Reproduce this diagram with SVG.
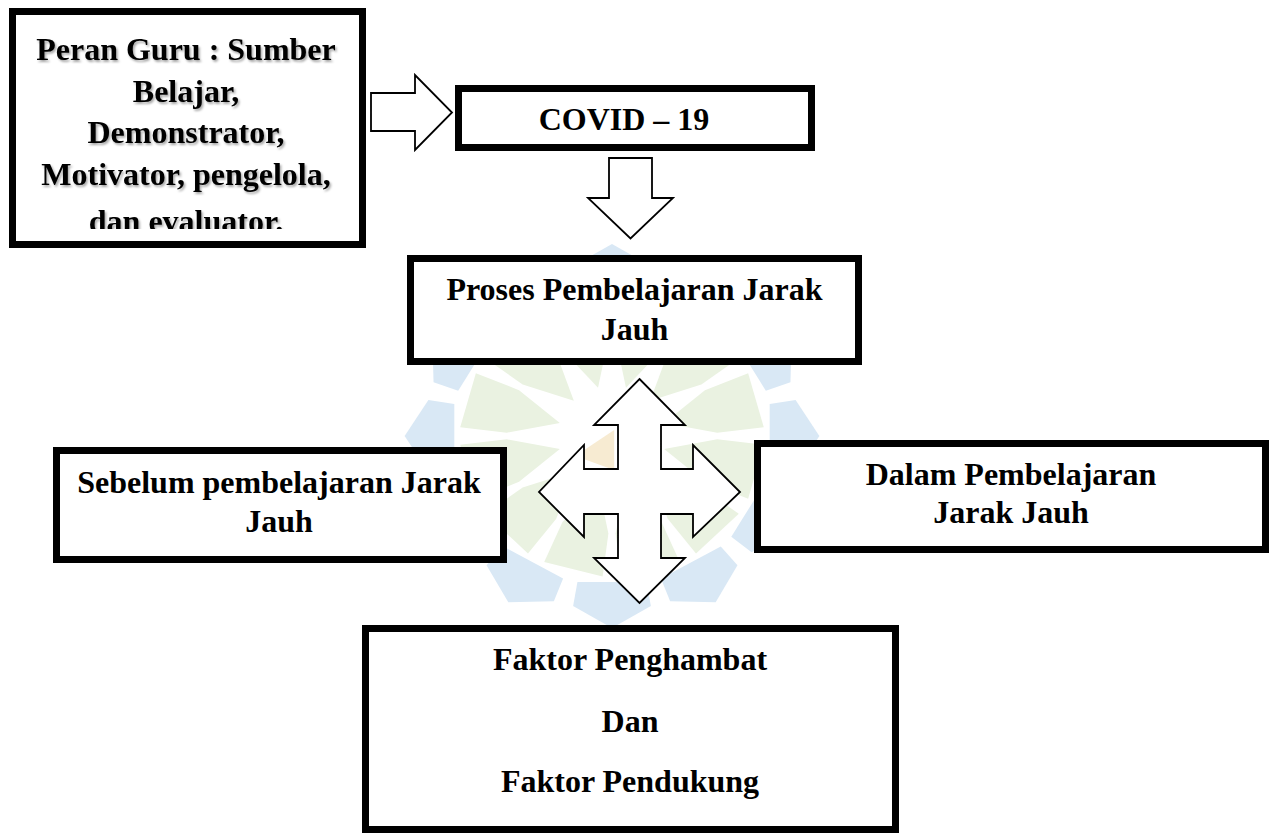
<svg xmlns="http://www.w3.org/2000/svg" xmlns:xlink="http://www.w3.org/1999/xlink" width="1272" height="834" viewBox="0 0 1272 834">
  <style>
    .box { fill: #ffffff; stroke: #000000; stroke-width: 7; }
    .arrow { fill: #ffffff; stroke: #000000; stroke-width: 1.8; stroke-linejoin: miter; }
    .t { font-family: "Liberation Serif", "Times New Roman", serif; font-weight: bold; font-size: 32px; fill: #000000; text-anchor: middle; }
    .wb { fill: #d9e8f5; }
    .wg { fill: #eaf2e1; }
  </style>
  <defs>
    <filter id="sh" x="-5%" y="-20%" width="110%" height="150%">
      <feDropShadow dx="1.5" dy="2" stdDeviation="1.2" flood-color="#000000" flood-opacity="0.35"/>
    </filter>
    <clipPath id="clip1">
      <rect x="16" y="15" width="344" height="214"/>
    </clipPath>
    <polygon id="blueSeg" points="0,-192 -36,-170 -32,-146 32,-146 36,-170"/>
    <polygon id="greenSeg" points="0,-50 -22,-95 -28,-138 28,-138 22,-95"/>
  </defs>

  <rect x="0" y="0" width="1272" height="834" fill="#ffffff"/>

  <g id="watermark" transform="translate(612,436) scale(1.08,1)">
    <g class="wb">
      <use xlink:href="#blueSeg" href="#blueSeg" transform="rotate(0)"/>
      <use xlink:href="#blueSeg" href="#blueSeg" transform="rotate(30)"/>
      <use xlink:href="#blueSeg" href="#blueSeg" transform="rotate(60)"/>
      <use xlink:href="#blueSeg" href="#blueSeg" transform="rotate(90)"/>
      <use xlink:href="#blueSeg" href="#blueSeg" transform="rotate(120)"/>
      <use xlink:href="#blueSeg" href="#blueSeg" transform="rotate(150)"/>
      <use xlink:href="#blueSeg" href="#blueSeg" transform="rotate(180)"/>
      <use xlink:href="#blueSeg" href="#blueSeg" transform="rotate(210)"/>
      <use xlink:href="#blueSeg" href="#blueSeg" transform="rotate(240)"/>
      <use xlink:href="#blueSeg" href="#blueSeg" transform="rotate(270)"/>
      <use xlink:href="#blueSeg" href="#blueSeg" transform="rotate(300)"/>
      <use xlink:href="#blueSeg" href="#blueSeg" transform="rotate(330)"/>
    </g>
    <g class="wg">
      <use xlink:href="#greenSeg" href="#greenSeg" transform="rotate(15)"/>
      <use xlink:href="#greenSeg" href="#greenSeg" transform="rotate(45)"/>
      <use xlink:href="#greenSeg" href="#greenSeg" transform="rotate(75)"/>
      <use xlink:href="#greenSeg" href="#greenSeg" transform="rotate(105)"/>
      <use xlink:href="#greenSeg" href="#greenSeg" transform="rotate(135)"/>
      <use xlink:href="#greenSeg" href="#greenSeg" transform="rotate(165)"/>
      <use xlink:href="#greenSeg" href="#greenSeg" transform="rotate(195)"/>
      <use xlink:href="#greenSeg" href="#greenSeg" transform="rotate(225)"/>
      <use xlink:href="#greenSeg" href="#greenSeg" transform="rotate(255)"/>
      <use xlink:href="#greenSeg" href="#greenSeg" transform="rotate(285)"/>
      <use xlink:href="#greenSeg" href="#greenSeg" transform="rotate(315)"/>
      <use xlink:href="#greenSeg" href="#greenSeg" transform="rotate(345)"/>
    </g>
    <polygon points="2,-6 -34,20 2,34" fill="#f7ebd2"/>
  </g>

  <g id="connectors">
    <path id="arrow-guru-covid" class="arrow" d="M371,93 L415,93 L415,75 L452,112.5 L415,150 L415,131 L371,131 Z"/>
    <path id="arrow-covid-proses" class="arrow" d="M609,158 L652,158 L652,198 L673,198 L630.5,238.5 L588,198 L609,198 Z"/>
    <path id="arrow-4way" class="arrow" d="M639.5,379 L685,425 L661,425 L661,469 L693,469 L693,445 L740,492 L693,537 L693,514 L661,514 L661,558 L685,558 L639.5,603 L594,558 L618,558 L618,514 L584,514 L584,537 L539,492 L584,445 L584,469 L618,469 L618,425 L594,425 Z"/>
  </g>

  <g id="node-peran-guru">
    <rect class="box" x="12.5" y="11.5" width="350" height="233"/>
    <g clip-path="url(#clip1)" filter="url(#sh)">
      <text class="t" x="186" y="60">Peran Guru : Sumber</text>
      <text class="t" x="186" y="101.5">Belajar,</text>
      <text class="t" x="186" y="143">Demonstrator,</text>
      <text class="t" x="186" y="184.5">Motivator, pengelola,</text>
      <text class="t" x="186" y="232">dan evaluator.</text>
    </g>
  </g>

  <g id="node-covid">
    <rect class="box" x="458.5" y="88.5" width="353" height="59"/>
    <text class="t" x="624" y="130">COVID – 19</text>
  </g>

  <g id="node-proses">
    <rect class="box" x="410.5" y="258.5" width="448" height="103"/>
    <text class="t" x="634.5" y="300">Proses Pembelajaran Jarak</text>
    <text class="t" x="634.5" y="340">Jauh</text>
  </g>

  <g id="node-sebelum">
    <rect class="box" x="56.5" y="450.5" width="447" height="109"/>
    <text class="t" x="279" y="493">Sebelum pembelajaran Jarak</text>
    <text class="t" x="279" y="532">Jauh</text>
  </g>

  <g id="node-dalam">
    <rect class="box" x="757.5" y="443.5" width="508" height="106"/>
    <text class="t" x="1011" y="485">Dalam Pembelajaran</text>
    <text class="t" x="1011" y="523">Jarak Jauh</text>
  </g>

  <g id="node-faktor">
    <rect class="box" x="365.5" y="628.5" width="530" height="201"/>
    <text class="t" x="630" y="670">Faktor Penghambat</text>
    <text class="t" x="630" y="732">Dan</text>
    <text class="t" x="630" y="792">Faktor Pendukung</text>
  </g>
</svg>
